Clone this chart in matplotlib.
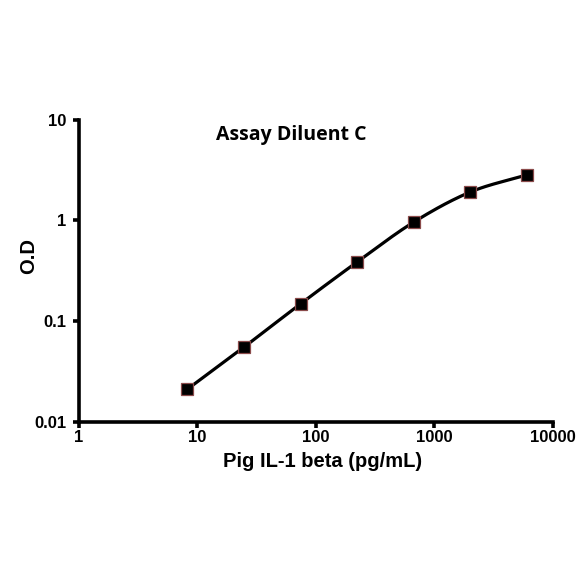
import numpy as np
import matplotlib.pyplot as plt
from matplotlib.ticker import FixedLocator, FixedFormatter, NullLocator

# standard curve, 3-fold dilutions
conc = [8.23, 24.7, 74.1, 222, 667, 2000, 6000]
od = [0.021, 0.055, 0.148, 0.385, 0.96, 1.91, 2.83]

xticks = [1, 10, 100, 1000, 10000]
xticklabels = ["1", "10", "100", "1000", "10000"]
yticks = [0.01, 0.1, 1, 10]
yticklabels = ["0.01", "0.1", "1", "10"]


def smooth(xs, ys, n=30):
    # Catmull-Rom spline in log space, like Excel's smoothed line
    px = np.log10(xs)
    py = np.log10(ys)
    P = np.column_stack([px, py])
    P = np.vstack([2 * P[0] - P[1], P, 2 * P[-1] - P[-2]])
    out = []
    for i in range(1, len(P) - 2):
        p0, p1, p2, p3 = P[i - 1], P[i], P[i + 1], P[i + 2]
        t = np.linspace(0, 1, n)[:, None]
        seg = 0.5 * ((2 * p1) + (-p0 + p2) * t + (2 * p0 - 5 * p1 + 4 * p2 - p3) * t ** 2
                     + (-p0 + 3 * p1 - 3 * p2 + p3) * t ** 3)
        out.append(seg)
    out = np.vstack(out)
    return 10 ** out[:, 0], 10 ** out[:, 1]


plt.rcParams['font.family'] = ['Liberation Sans', 'DejaVu Sans']
plt.rcParams['font.weight'] = 'bold'

fig = plt.figure(figsize=(5.84, 5.84), dpi=100)
ax = fig.add_axes([0.135, 0.278, 0.812, 0.517])

sx, sy = smooth(conc, od)
ax.plot(sx, sy, color='black', lw=2.3, zorder=2)
ax.plot(conc, od, linestyle='none', marker='s', markersize=8.5,
        markerfacecolor='black', markeredgecolor='#8a4a4a', markeredgewidth=0.9, zorder=3)

ax.set_xscale('log')
ax.set_yscale('log')
ax.set_xlim(1, 10000)
ax.set_ylim(0.01, 10)
ax.xaxis.set_major_locator(FixedLocator(xticks))
ax.xaxis.set_major_formatter(FixedFormatter(xticklabels))
ax.yaxis.set_major_locator(FixedLocator(yticks))
ax.yaxis.set_major_formatter(FixedFormatter(yticklabels))
ax.xaxis.set_minor_locator(NullLocator())
ax.yaxis.set_minor_locator(NullLocator())

for s in ['top', 'right']:
    ax.spines[s].set_visible(False)
for s in ['left', 'bottom']:
    ax.spines[s].set_linewidth(2.6)
ax.tick_params(axis='x', which='major', direction='out', length=4, width=2.6,
               labelsize=12, pad=2)
ax.tick_params(axis='y', which='major', direction='out', length=4, width=2.6,
               labelsize=12, pad=5)
for lab in ax.get_xticklabels() + ax.get_yticklabels():
    lab.set_fontweight('bold')
    lab.set_fontsize(12)

ax.set_xlabel("Pig IL-1 beta (pg/mL)", fontsize=14.5, fontweight='bold')
ax.xaxis.set_label_coords(0.513, -0.1)
ax.set_ylabel("O.D", fontsize=14.5, fontweight='bold')
ax.yaxis.set_label_coords(-0.085, 0.549)
ax.text(0.29, 0.95, "Assay Diluent C", transform=ax.transAxes, fontsize=14,
        fontweight='bold', family=['Open Sans', 'DejaVu Sans'], ha='left', va='center')

fig.savefig('out.png', dpi=100)
